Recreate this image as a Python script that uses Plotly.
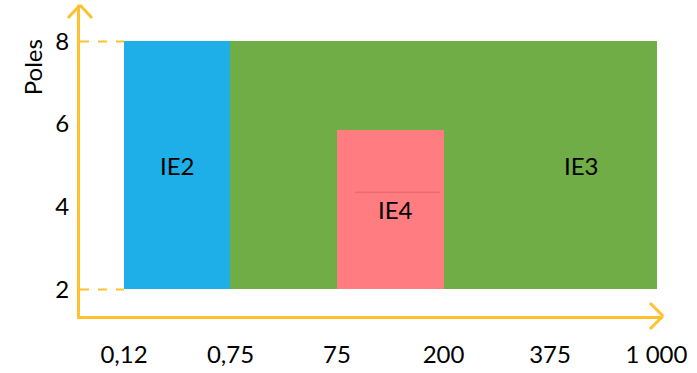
import plotly.graph_objects as go

# Rated power classes (kW) shown as ordered steps along the x axis
power_labels = ["0,12", "0,75", "75", "200", "375", "1 000"]
power_steps = [0, 1, 2, 3, 4, 5]

# Efficiency classes: power step span and pole-count span
classes = ["IE2", "IE3", "IE4"]
step_from = [0, 1, 2]
step_to = [1, 5, 3]
poles_min = [2, 2, 2]
poles_max = [8, 8, 5.85]
class_colors = ["#1EAEE8", "#70AD47", "#FF7C80"]

pole_ticks = [2, 4, 6, 8]

AXIS = "#FFC12E"
FONT = "Lato"
INK = "#000000"

fig = go.Figure()

for name, a, b, lo, hi, col in zip(classes, step_from, step_to, poles_min, poles_max, class_colors):
    fig.add_trace(go.Bar(
        x=[(a + b) / 2], width=[b - a], base=[lo], y=[hi - lo],
        marker=dict(color=col, line=dict(width=0)),
        name=name, hoverinfo="skip", showlegend=False,
    ))

x_range = [-0.413, 5.061]
y_range = [1.357, 8.881]

# Class names inside the blocks
label_font = dict(family=FONT, size=24, color=INK)
fig.add_annotation(x=0.5, y=5.0, text="IE2", showarrow=False, font=label_font)
fig.add_annotation(x=4.3, y=5.0, text="IE3", showarrow=False, font=label_font)
fig.add_annotation(x=2.55, y=3.93, text="IE4", showarrow=False, font=label_font)

# Axis title, set high next to the arrow
fig.add_annotation(xref="paper", yref="paper", x=0, y=0.80, xshift=-48,
                   xanchor="center", yanchor="middle",
                   text="Poles", textangle=-90, showarrow=False,
                   font=dict(family=FONT, size=24, color=INK))

shapes = []
# Dashed guides from the axis to the block edges at the min/max pole counts
for p in (min(poles_min), max(poles_max)):
    shapes.append(dict(type="line", xref="x", yref="y",
                       x0=x_range[0], x1=step_from[0], y0=p, y1=p,
                       line=dict(color=AXIS, width=2, dash="dash"), layer="above"))

# Arrow heads (open chevrons) at the axis ends
for dx, dy in ((-12, -13), (12, -13)):
    shapes.append(dict(type="line", xref="paper", yref="paper",
                       xsizemode="pixel", ysizemode="pixel", xanchor=0, yanchor=1,
                       x0=0, y0=0, x1=dx, y1=dy,
                       line=dict(color=AXIS, width=3)))
for dx, dy in ((-13, 13), (-13, -13)):
    shapes.append(dict(type="line", xref="paper", yref="paper",
                       xsizemode="pixel", ysizemode="pixel", xanchor=1, yanchor=0,
                       x0=0, y0=0, x1=dx, y1=dy,
                       line=dict(color=AXIS, width=3)))

# Faint text-box edge above the IE4 label
shapes.append(dict(type="line", xref="x", yref="y", x0=2.17, x1=2.97, y0=4.35, y1=4.35,
                   line=dict(color="rgba(190,80,80,0.45)", width=1)))

fig.update_layout(
    width=697, height=373,
    margin=dict(l=80, r=34, t=5, b=52),
    paper_bgcolor="white", plot_bgcolor="white",
    barmode="overlay", bargap=0,
    shapes=shapes,
    font=dict(family=FONT, color=INK),
    xaxis=dict(range=x_range, tickvals=power_steps, ticktext=power_labels,
               showgrid=False, zeroline=False, showline=True,
               linecolor=AXIS, linewidth=3,
               ticks="outside", ticklen=15, tickcolor="rgba(0,0,0,0)",
               tickfont=dict(family=FONT, size=24, color=INK),
               fixedrange=True),
    yaxis=dict(range=y_range, tickvals=pole_ticks,
               showgrid=False, zeroline=False, showline=True,
               linecolor=AXIS, linewidth=3,
               ticks="outside", ticklen=3, tickcolor="rgba(0,0,0,0)",
               tickfont=dict(family=FONT, size=24, color=INK),
               fixedrange=True),
)

fig.write_html("out.html")
